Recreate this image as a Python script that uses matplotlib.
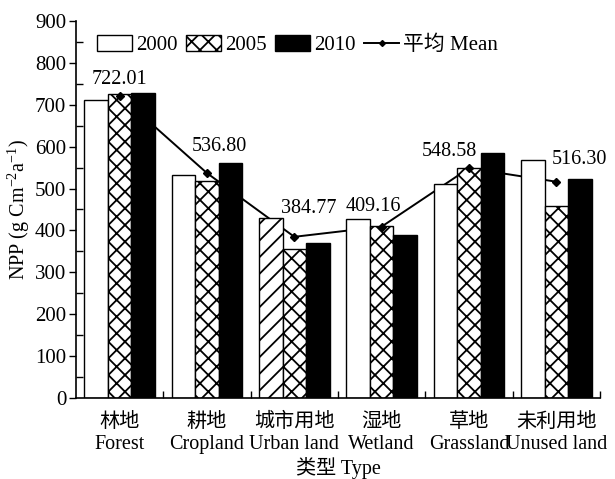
import matplotlib.pyplot as plt
import numpy as np
from matplotlib.patches import Patch
from matplotlib.lines import Line2D

plt.rcParams["font.family"] = ["Liberation Serif", "Noto Sans CJK SC"]
plt.rcParams["mathtext.fontset"] = "custom"
plt.rcParams["mathtext.rm"] = "Liberation Serif"
plt.rcParams["hatch.linewidth"] = 1.3

types_cn = ["林地", "耕地", "城市用地", "湿地", "草地", "未利用地"]
types_en = ["Forest", "Cropland", "Urban land", "Wetland", "Grassland", "Unused land"]
npp_2000 = [711, 533, 430, 427, 512, 569]
npp_2005 = [725, 517, 355, 410, 548, 458]
npp_2010 = [729, 560, 369, 390, 586, 522]
npp_mean = [722.01, 536.80, 384.77, 409.16, 548.58, 516.30]
# label offsets from the mean point (x in groups, y in data units)
label_dx = [0.0, 0.14, 0.17, -0.1, -0.23, 0.27]
label_dy = [38, 64, 68, 49, 40, 52]

fig = plt.figure(figsize=(6.15, 4.79), dpi=100)
ax = fig.add_axes([0.1236, 0.1691, 0.852, 0.7871])

x = np.arange(len(types_cn))
w = 0.27
fs = 14.5

ax.plot(x, npp_mean, color="black", lw=1.4, zorder=1)
b1 = ax.bar(x - w, npp_2000, w, color="white", edgecolor="black", lw=1.0, zorder=2)
b1[2].set_hatch("//")
ax.bar(x, npp_2005, w, color="white", edgecolor="black", lw=1.0, hatch="xx", zorder=2)
ax.bar(x + w, npp_2010, w, color="black", edgecolor="black", lw=1.0, zorder=2)
ax.plot(x, npp_mean, ls="none", marker="D", ms=4, color="black", zorder=3)

for i, v in enumerate(npp_mean):
    ax.text(x[i] + label_dx[i], v + label_dy[i], f"{v:.2f}", ha="center",
            va="center", fontsize=fs)

ax.set_xlim(-0.5, 5.5)
ax.set_ylim(0, 900)
ax.set_yticks(np.arange(0, 901, 100))
ax.set_yticks(np.arange(50, 900, 100), minor=True)
ax.set_xticks(x)
ax.set_xticklabels([f"{c}\n{e}" for c, e in zip(types_cn, types_en)],
                   fontsize=fs, linespacing=1.2)
ax.set_xticks(np.arange(0.5, 5.6, 1), minor=True)
ax.tick_params(axis="x", which="major", length=0, pad=11)
ax.tick_params(axis="x", which="minor", direction="in", length=5, width=1)
ax.tick_params(axis="y", which="major", direction="out", length=5, width=1,
               labelsize=15, pad=2)
ax.tick_params(axis="y", which="minor", direction="in", length=5, width=1)
for s in ["top", "right"]:
    ax.spines[s].set_visible(False)
for s in ["left", "bottom"]:
    ax.spines[s].set_linewidth(1.2)

ax.set_ylabel("NPP (g Cm$^{-2}$a$^{-1}$)", fontsize=fs, labelpad=2)
ax.set_xlabel("类型 Type", fontsize=fs, labelpad=2)

handles = [
    Patch(facecolor="white", edgecolor="black", lw=1.0),
    Patch(facecolor="white", edgecolor="black", lw=1.0, hatch="xx"),
    Patch(facecolor="black", edgecolor="black"),
    Line2D([], [], color="black", lw=1.4, marker="D", ms=3),
]
ax.legend(handles, ["2000", "2005", "2010", "平均 Mean"], ncol=4, frameon=False,
          fontsize=15, loc="center left", bbox_to_anchor=(0.04, 0.936),
          handlelength=1.68, handleheight=0.8, handletextpad=0.2,
          columnspacing=0.4, borderaxespad=0, borderpad=0)

fig.savefig("out.png", dpi=100)
